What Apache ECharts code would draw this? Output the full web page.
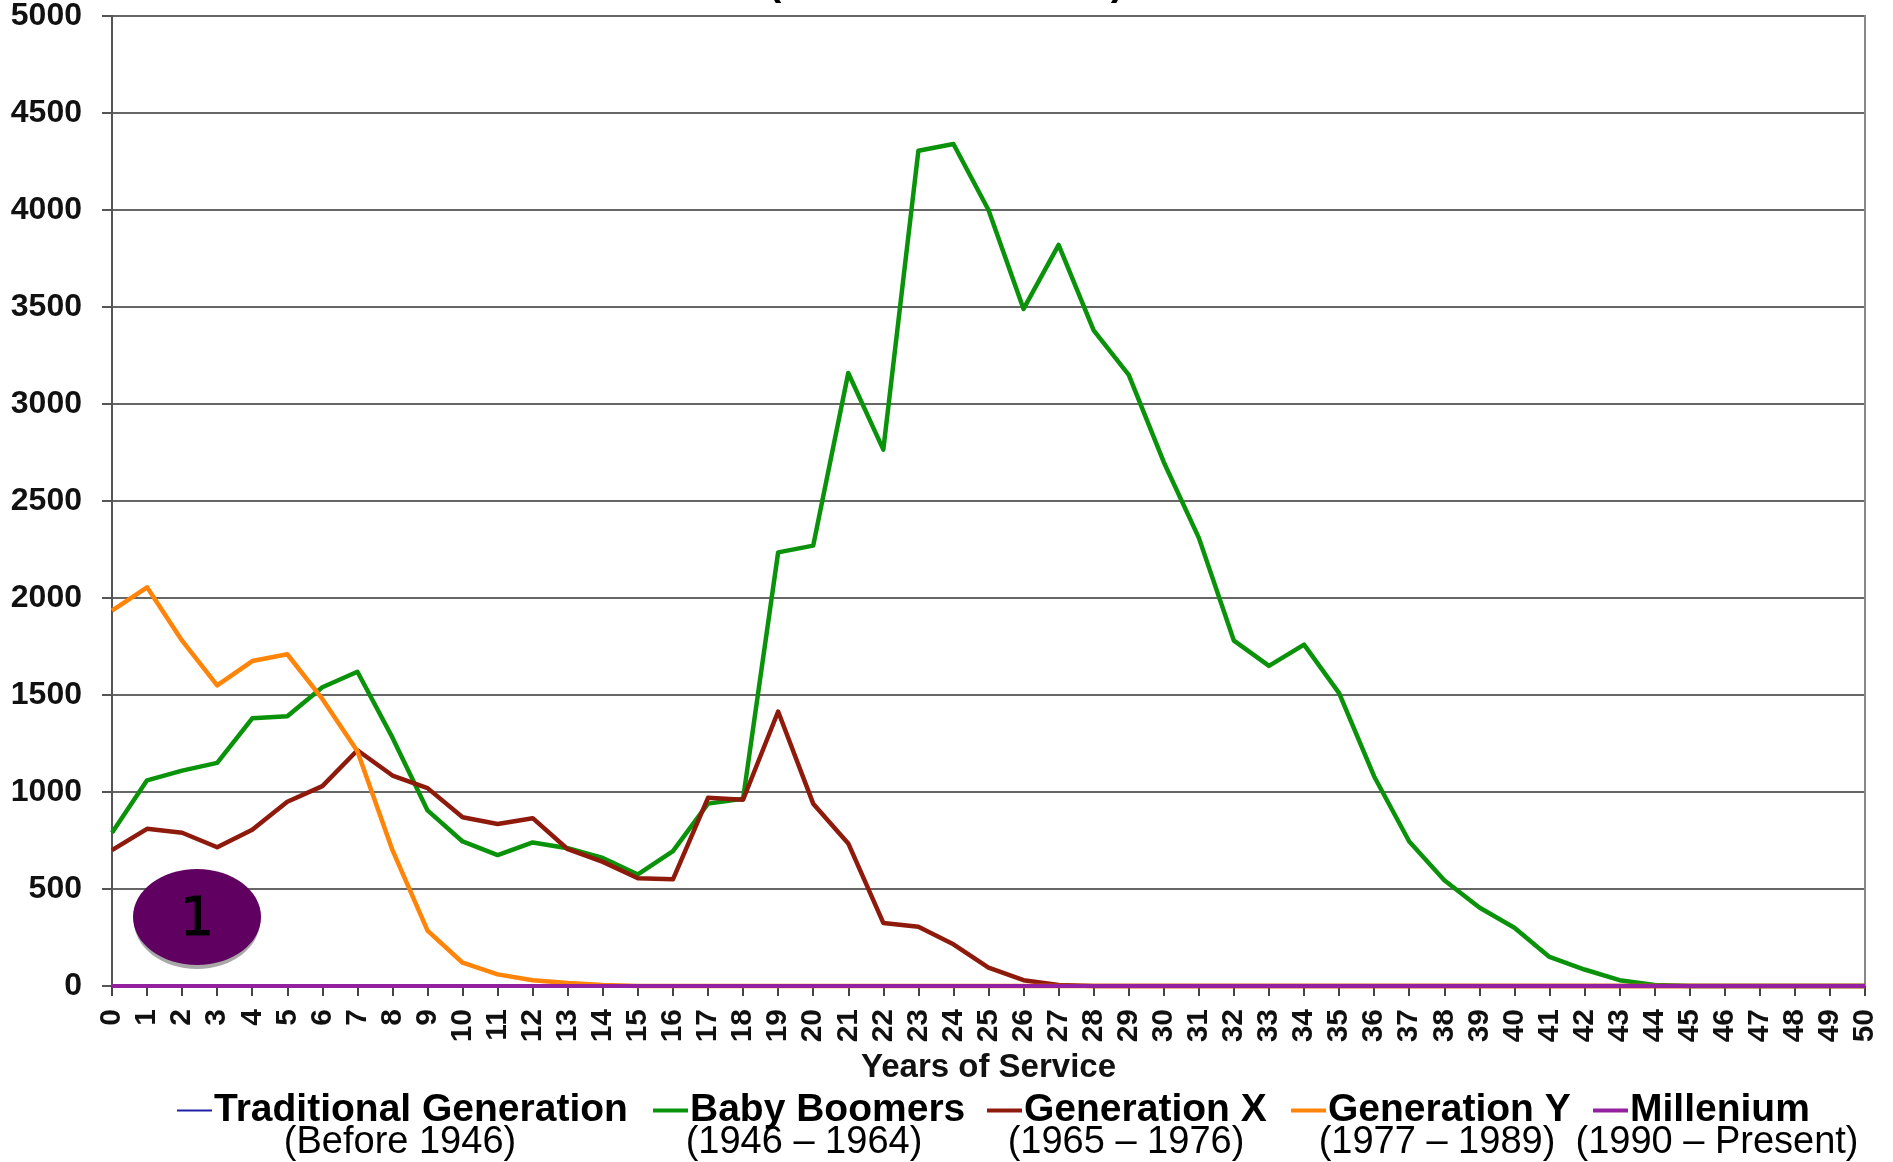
<!DOCTYPE html>
<html><head><meta charset="utf-8">
<style>html,body{margin:0;padding:0;background:#fff}#c{width:1893px;height:1162px}</style>
<script src="https://cdn.jsdelivr.net/npm/echarts@6/dist/echarts.min.js"></script>
</head><body><div id="c"></div>
<script>
const years = Array.from({length:51},(_,i)=>String(i));
const yTicks = {min:0,max:5000,interval:500};
const traditional = [0,0,0,0,0,0,0,0,0,0,0,0,0,0,0,0,0,0,0,0,0,0,0,0,0,0,0,0,0,0,0,0,0,0,0,0,0,0,0,0,0,0,0,0,0,0,0,0,0,0,0];
const boomers = [790,1060,1110,1150,1380,1390,1540,1620,1280,905,745,675,740,710,660,575,695,940,965,2235,2270,3160,2765,4305,4340,4000,3490,3820,3380,3150,2700,2310,1780,1650,1760,1510,1080,745,545,405,300,150,85,30,5,0,0,0,0,0,0];
const genX = [700,810,790,715,805,950,1030,1215,1085,1020,870,835,865,705,640,555,550,970,960,1415,940,735,325,305,215,95,30,5,0,0,0,0,0,0,0,0,0,0,0,0,0,0,0,0,0,0,0,0,0,0,0];
const genY = [1935,2055,1780,1550,1675,1710,1480,1210,700,285,120,60,30,15,5,0,0,0,0,0,0,0,0,0,0,0,0,0,0,0,0,0,0,0,0,0,0,0,0,0,0,0,0,0,0,0,0,0,0,0,0];
const millenium = [0,0,0,0,0,0,0,0,0,0,0,0,0,0,0,0,0,0,0,0,0,0,0,0,0,0,0,0,0,0,0,0,0,0,0,0,0,0,0,0,0,0,0,0,0,0,0,0,0,0,0];
const names = ['Traditional Generation','Baby Boomers','Generation X','Generation Y','Millenium'];
const periods = ['(Before 1946)','(1946 – 1964)','(1965 – 1976)','(1977 – 1989)','(1990 – Present)'];
const colors = ['#2020a8','#0a930a','#8e1a0c','#ff8408','#93209f'];
const widths = [2,4.5,4.5,4.5,4];
const values = [traditional,boomers,genX,genY,millenium];
const legendLeft = [177,653,987,1291,1593];
const periodCenter = [400,804,1126,1437,1717];
const chart = echarts.init(document.getElementById('c'));
const boldFont = 'Liberation Sans';
chart.setOption({
  animation:false,
  backgroundColor:'#fff',
  grid:{left:112,right:28,top:15,bottom:176,containLabel:false},
  legend:names.map((n,i)=>({
    data:[n],left:legendLeft[i],top:1091,itemWidth:35,itemHeight:i===0?2:4,itemGap:0,icon:'rect',padding:0,
    textStyle:{fontFamily:boldFont,fontWeight:'bold',fontSize:39,color:'#000',padding:[0,0,0,-3]}
  })),
  xAxis:{type:'category',data:years,boundaryGap:false,
    name:'Years of Service',nameLocation:'middle',nameGap:65,
    nameTextStyle:{fontFamily:boldFont,fontWeight:'bold',fontSize:33,color:'#111'},
    axisLine:{lineStyle:{color:'#555',width:2}},
    axisTick:{show:true,alignWithLabel:true,length:10,interval:0,lineStyle:{color:'#444',width:2}},
    axisLabel:{interval:0,rotate:90,margin:23,fontFamily:boldFont,fontWeight:'bold',fontSize:30,color:'#111',verticalAlign:'middle',align:'right'},
    splitLine:{show:false}},
  yAxis:{type:'value',min:yTicks.min,max:yTicks.max,interval:yTicks.interval,
    axisLine:{show:true,lineStyle:{color:'#555',width:2}},
    axisTick:{show:true,length:10,lineStyle:{color:'#555',width:2}},
    axisLabel:{margin:30,fontFamily:boldFont,fontWeight:'bold',fontSize:32,color:'#111',padding:[4,0,0,0],formatter:v=>String(v)},
    splitLine:{show:true,lineStyle:{color:'#666',width:2}}},
  series:names.map((n,i)=>({
    name:n,type:'line',data:values[i],showSymbol:false,smooth:false,
    z:i===4?5:3,
    itemStyle:{color:colors[i]},
    lineStyle:{color:colors[i],width:widths[i],join:'round'},
    clip:false
  })),
  graphic:[
    {type:'line',shape:{x1:1865,y1:15,x2:1865,y2:986},style:{stroke:'#888',lineWidth:2},z:1},
    {type:'ellipse',shape:{cx:197,cy:921,rx:63,ry:48},style:{fill:'#a8a8a8'},z:10},
    {type:'ellipse',shape:{cx:197,cy:917,rx:64,ry:48},style:{fill:'#600060'},z:11},
    {type:'text',x:197,y:921,z:12,style:{text:'1',fontFamily:'DejaVu Sans',fontSize:54,fill:'#000',stroke:'#000',lineWidth:1,align:'center',verticalAlign:'middle'}},
    {type:'text',x:768,y:4,style:{text:'(',fontFamily:boldFont,fontWeight:'bold',fontSize:40,fill:'#000',align:'left',verticalAlign:'bottom'}},
    {type:'text',x:1124,y:4,style:{text:')',fontFamily:boldFont,fontWeight:'bold',fontSize:40,fill:'#000',align:'right',verticalAlign:'bottom'}},
    ...periods.map((p,i)=>({type:'text',x:periodCenter[i],y:1143,style:{text:p,fontFamily:'Liberation Sans',fontSize:38,fill:'#000',align:'center',verticalAlign:'middle'}}))
  ]
});
</script></body></html>
